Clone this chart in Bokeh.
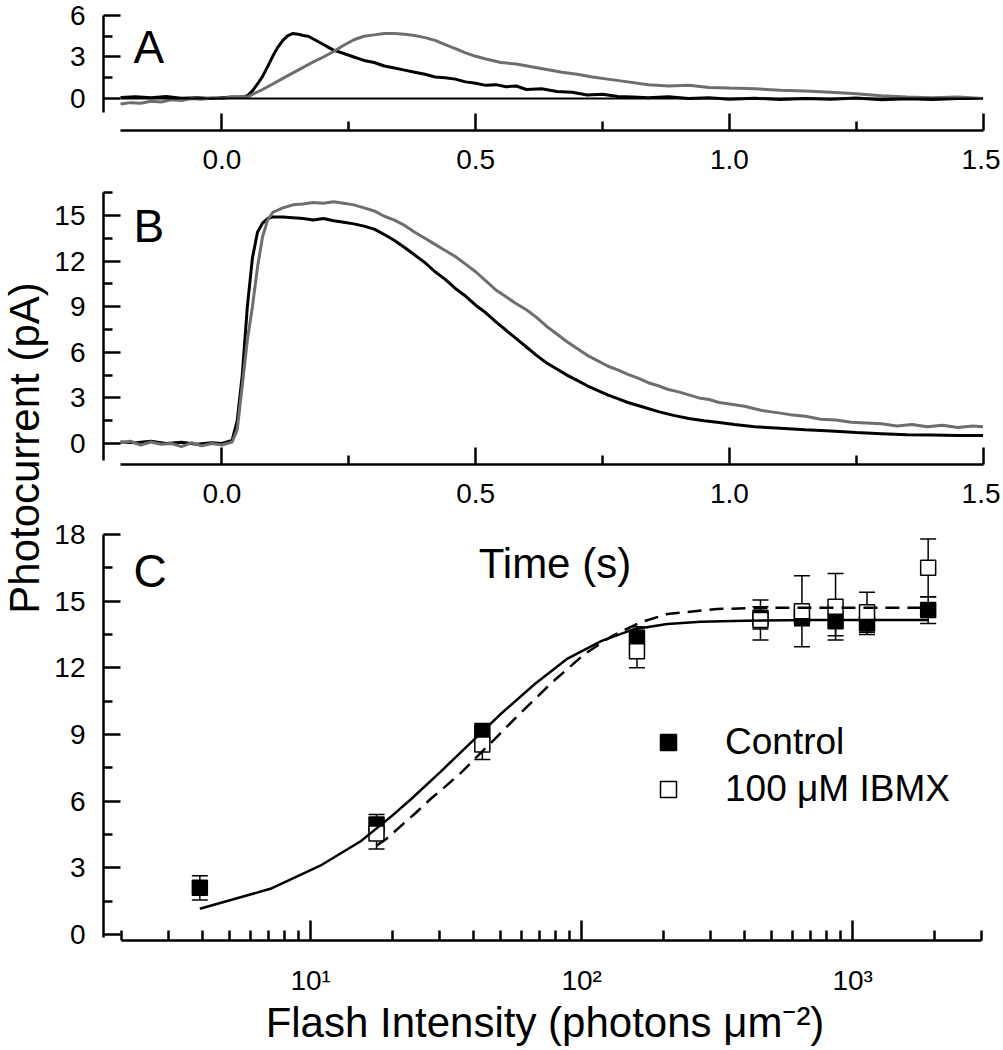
import math
from bokeh.plotting import figure
from bokeh.layouts import row, column
from bokeh.models import (Range1d, FixedTicker, Label, Legend, LegendItem, Whisker,
                          TeeHead, ColumnDataSource, PrintfTickFormatter, CustomJSTickFormatter)
from bokeh.embed import file_html
from bokeh.resources import INLINE

FONT = "Liberation Sans"

# ---------------- Panel A data (time s, current pA) ----------------
a_black_t = [-0.20, -0.17, -0.14, -0.11, -0.08, -0.05, -0.02, 0.00, 0.02, 0.04, 0.05, 0.06, 0.07, 0.08,
             0.09, 0.10, 0.11, 0.12, 0.13, 0.14, 0.15, 0.16, 0.17, 0.18, 0.19, 0.20, 0.21, 0.22, 0.24,
             0.26, 0.28, 0.30, 0.32, 0.34, 0.36, 0.38, 0.40, 0.42, 0.44, 0.46, 0.48, 0.50, 0.52, 0.54,
             0.56, 0.58, 0.60, 0.63, 0.66, 0.69, 0.72, 0.75, 0.78, 0.81, 0.84, 0.88, 0.92, 0.96, 1.00,
             1.05, 1.10, 1.15, 1.20, 1.25, 1.30, 1.35, 1.40, 1.45, 1.50]
a_black_v = [0.08, 0.12, 0.05, 0.15, 0.02, 0.06, 0.00, 0.05, 0.10, 0.08, 0.20, 0.55, 1.05, 1.60,
             2.30, 3.05, 3.70, 4.20, 4.55, 4.70, 4.65, 4.55, 4.50, 4.30, 4.10, 3.90, 3.70, 3.50, 3.25,
             3.00, 2.75, 2.60, 2.35, 2.20, 2.05, 1.90, 1.75, 1.55, 1.50, 1.40, 1.20, 1.10, 0.95, 1.00,
             0.85, 0.90, 0.65, 0.70, 0.50, 0.45, 0.25, 0.30, 0.15, 0.10, 0.05, 0.12, 0.00, 0.05, -0.05,
             0.02, -0.08, 0.00, -0.05, 0.03, -0.10, -0.02, -0.08, 0.00, 0.00]
a_gray_t = [-0.20, -0.18, -0.16, -0.14, -0.12, -0.10, -0.08, -0.06, -0.04, -0.02, 0.00, 0.02, 0.04, 0.05,
            0.06, 0.08, 0.10, 0.12, 0.14, 0.16, 0.18, 0.20, 0.22, 0.24, 0.26, 0.28, 0.30, 0.32, 0.34,
            0.36, 0.38, 0.40, 0.42, 0.44, 0.46, 0.48, 0.50, 0.52, 0.55, 0.58, 0.61, 0.64, 0.67, 0.70,
            0.73, 0.76, 0.80, 0.84, 0.88, 0.92, 0.96, 1.00, 1.05, 1.10, 1.15, 1.20, 1.25, 1.30, 1.35,
            1.40, 1.45, 1.50]
a_gray_v = [-0.40, -0.30, -0.35, -0.20, -0.25, -0.10, -0.15, 0.00, -0.05, 0.05, 0.00, 0.10, 0.15, 0.10,
            0.30, 0.65, 1.05, 1.45, 1.85, 2.25, 2.65, 3.00, 3.40, 3.85, 4.25, 4.50, 4.60, 4.70, 4.70,
            4.65, 4.55, 4.40, 4.20, 3.90, 3.60, 3.30, 3.05, 2.85, 2.60, 2.50, 2.30, 2.10, 1.90, 1.75,
            1.55, 1.40, 1.20, 1.00, 0.90, 0.95, 0.80, 0.75, 0.70, 0.60, 0.55, 0.45, 0.35, 0.20, 0.10,
            0.05, 0.10, 0.00]

# ---------------- Panel B data ----------------
b_black_t = [-0.20, -0.17, -0.14, -0.11, -0.08, -0.05, -0.02, 0.00, 0.02, 0.03, 0.04, 0.05, 0.06, 0.07,
             0.08, 0.09, 0.10, 0.12, 0.14, 0.16, 0.18, 0.20, 0.22, 0.24, 0.26, 0.28, 0.30, 0.32, 0.34,
             0.36, 0.38, 0.40, 0.42, 0.44, 0.46, 0.48, 0.50, 0.52, 0.54, 0.56, 0.58, 0.60, 0.62, 0.64,
             0.66, 0.68, 0.70, 0.72, 0.74, 0.76, 0.78, 0.80, 0.83, 0.86, 0.89, 0.92, 0.95, 0.98, 1.01,
             1.05, 1.10, 1.15, 1.20, 1.25, 1.30, 1.35, 1.40, 1.45, 1.50]
b_black_v = [0.10, 0.05, 0.15, 0.00, 0.08, -0.05, 0.05, 0.00, 0.20, 1.50, 4.50, 9.00, 12.20, 13.90,
             14.50, 14.80, 14.90, 14.90, 14.85, 14.80, 14.70, 14.80, 14.65, 14.55, 14.45, 14.30, 14.10,
             13.75, 13.35, 12.90, 12.40, 11.90, 11.30, 10.80, 10.20, 9.70, 9.10, 8.60, 8.00, 7.45, 6.90,
             6.35, 5.80, 5.30, 4.90, 4.50, 4.15, 3.80, 3.50, 3.20, 2.95, 2.70, 2.40, 2.10, 1.85, 1.65,
             1.50, 1.38, 1.25, 1.10, 1.00, 0.90, 0.82, 0.72, 0.65, 0.58, 0.56, 0.52, 0.53]
b_gray_t = [-0.20, -0.18, -0.16, -0.14, -0.12, -0.10, -0.08, -0.06, -0.04, -0.02, 0.00, 0.02, 0.03, 0.04,
            0.05, 0.06, 0.07, 0.08, 0.09, 0.10, 0.12, 0.14, 0.16, 0.18, 0.20, 0.22, 0.24, 0.26, 0.28,
            0.30, 0.32, 0.34, 0.36, 0.38, 0.40, 0.42, 0.44, 0.46, 0.48, 0.50, 0.52, 0.54, 0.56, 0.58,
            0.60, 0.62, 0.64, 0.66, 0.68, 0.70, 0.72, 0.74, 0.76, 0.78, 0.80, 0.82, 0.84, 0.86, 0.88,
            0.90, 0.92, 0.94, 0.96, 0.98, 1.00, 1.03, 1.06, 1.09, 1.12, 1.15, 1.18, 1.21, 1.24, 1.27,
            1.30, 1.33, 1.36, 1.39, 1.42, 1.45, 1.48, 1.50]
b_gray_v = [0.05, 0.15, -0.10, 0.10, -0.05, 0.00, -0.20, 0.05, -0.15, 0.00, -0.10, 0.10, 0.90, 3.80,
            6.80, 9.00, 11.60, 13.60, 14.70, 15.20, 15.50, 15.70, 15.75, 15.85, 15.80, 15.90, 15.80,
            15.70, 15.50, 15.30, 14.95, 14.70, 14.35, 13.90, 13.50, 13.10, 12.70, 12.30, 11.80, 11.30,
            10.70, 10.10, 9.65, 9.20, 8.80, 8.30, 7.70, 7.20, 6.70, 6.25, 5.80, 5.45, 5.10, 4.85, 4.55,
            4.30, 4.00, 3.80, 3.55, 3.40, 3.20, 3.00, 2.90, 2.70, 2.60, 2.45, 2.20, 2.05, 1.90, 1.80,
            1.60, 1.55, 1.40, 1.35, 1.30, 1.15, 1.25, 1.10, 1.20, 1.05, 1.15, 1.10]

# ---------------- Panel C data ----------------
ctrl_x = [3.9, 17.5, 43, 160, 457, 650, 865, 1130, 1900]
ctrl_y = [2.1, 4.95, 9.1, 13.35, 14.25, 14.3, 14.1, 14.0, 14.6]
ctrl_err = [0.55, 0.45, 0.4, 0.5, 0.5, 0.4, 0.65, 0.5, 0.6]
ibmx_x = [17.5, 43, 160, 457, 650, 865, 1130, 1900]
ibmx_y = [4.55, 8.55, 12.75, 14.15, 14.55, 14.75, 14.5, 16.5]
ibmx_err = [0.7, 0.67, 0.75, 0.9, 1.6, 1.5, 0.9, 1.3]

ctrl_fit_x = [3.9, 5, 7.1, 11, 15.3, 20, 23.5, 30, 38, 50, 67, 88, 118, 156, 207, 275, 400, 700, 1000, 1900]
ctrl_fit_y = [1.16, 1.53, 2.06, 3.14, 4.2, 5.35, 6.1, 7.3, 8.5, 9.9, 11.26, 12.39, 13.2, 13.74, 13.97,
              14.07, 14.12, 14.15, 14.15, 14.15]
ibmx_fit_x = [17.5, 19, 24.4, 27.7, 31, 36, 49, 56, 77, 102, 128, 165, 207, 316, 480, 1000, 1900]
ibmx_fit_y = [4.0, 4.3, 5.47, 6.1, 6.6, 7.3, 8.93, 9.65, 11.3, 12.6, 13.4, 14.05, 14.42, 14.65, 14.7,
              14.7, 14.7]

legend_labels = ["Control", "100 μM IBMX"]

GRAY = "#6e6e6e"
TICK_FS = "28px"


def style_axes(p):
    for ax in [p.xaxis[0], p.yaxis[0]]:
        ax.axis_line_width = 2.5
        ax.major_tick_line_width = 2.5
        ax.minor_tick_line_width = 2.5
        ax.major_tick_in = 17
        ax.major_tick_out = 0
        ax.minor_tick_in = 9
        ax.minor_tick_out = 0
        ax.major_label_text_font = FONT
        ax.major_label_text_font_size = TICK_FS
        ax.major_label_text_color = "black"
        ax.axis_label_text_font = FONT
        ax.axis_label_text_font_style = "normal"
        ax.axis_label_text_color = "black"
    p.yaxis[0].major_label_standoff = 18
    p.xgrid.visible = False
    p.ygrid.visible = False
    p.outline_line_color = None


def letter(x, y, txt, size="46px"):
    return Label(x=x, y=y, text=txt, text_font=FONT, text_font_size=size, text_color="black",
                 text_baseline="alphabetic", text_align="left")


X0, X1 = -0.2335, 1.5068
W_LAB = 50
W_MAIN = 950
BL, BR = 53, 14

# ---------- Panel A ----------
pa = figure(width=W_MAIN, height=182, x_range=Range1d(X0, X1), y_range=Range1d(-2.315, 6.145),
            toolbar_location=None, output_backend="svg",
            min_border_left=BL, min_border_right=BR, min_border_top=13, min_border_bottom=52)
pa.line(a_black_t, a_black_v, line_color="black", line_width=3)
pa.line(a_gray_t, a_gray_v, line_color=GRAY, line_width=3)
pa.line([X0 + 0.034, 1.5], [0, 0], line_color="black", line_width=2)
style_axes(pa)
pa.xaxis.ticker = FixedTicker(ticks=[0, 0.5, 1.0, 1.5], minor_ticks=[0.25, 0.75, 1.25])
pa.xaxis.formatter = PrintfTickFormatter(format="%.1f")
pa.xaxis.bounds = (-0.2, 1.5)
pa.xaxis.major_label_standoff = 19
pa.yaxis.ticker = FixedTicker(ticks=[0, 3, 6], minor_ticks=[1.5, 4.5])
pa.yaxis.bounds = (-1.0, 6)
pa.add_layout(letter(-0.1744, 3.69, "A"))

# ---------- Panel B ----------
pb = figure(width=W_MAIN, height=334, x_range=Range1d(X0, X1), y_range=Range1d(-1.38, 16.645),
            toolbar_location=None, output_backend="svg",
            min_border_left=BL, min_border_right=BR, min_border_top=8, min_border_bottom=52)
pb.line(b_black_t, b_black_v, line_color="black", line_width=3)
pb.line(b_gray_t, b_gray_v, line_color=GRAY, line_width=3)
style_axes(pb)
pb.xaxis.ticker = FixedTicker(ticks=[0, 0.5, 1.0, 1.5], minor_ticks=[0.25, 0.75, 1.25])
pb.xaxis.formatter = PrintfTickFormatter(format="%.1f")
pb.xaxis.bounds = (-0.2, 1.5)
pb.xaxis.major_label_standoff = 19
pb.yaxis.ticker = FixedTicker(ticks=[0, 3, 6, 9, 12, 15], minor_ticks=[1.5, 4.5, 7.5, 10.5, 13.5, 16.5])
pb.yaxis.bounds = (-1.1, 16.5)
pb.add_layout(letter(-0.1744, 14.34, "B"))

# ---------- Panel C ----------
pc = figure(width=W_MAIN, height=532, x_axis_type="log", x_range=Range1d(1.72, 3119),
            y_range=Range1d(-0.268, 18.541),
            toolbar_location=None, output_backend="svg",
            min_border_left=BL, min_border_right=BR, min_border_top=6, min_border_bottom=100)

ctrl_src = ColumnDataSource(dict(x=ctrl_x, y=ctrl_y,
                                 upper=[v + e for v, e in zip(ctrl_y, ctrl_err)],
                                 lower=[v - e for v, e in zip(ctrl_y, ctrl_err)]))
ibmx_src = ColumnDataSource(dict(x=ibmx_x, y=ibmx_y,
                                 upper=[v + e for v, e in zip(ibmx_y, ibmx_err)],
                                 lower=[v - e for v, e in zip(ibmx_y, ibmx_err)]))
for src in (ctrl_src, ibmx_src):
    pc.add_layout(Whisker(source=src, base="x", upper="upper", lower="lower", dimension="height",
                          line_width=1.5, line_color="black",
                          upper_head=TeeHead(size=16, line_width=1.5, line_color="black"),
                          lower_head=TeeHead(size=16, line_width=1.5, line_color="black")))
r_ctrl = pc.scatter("x", "y", source=ctrl_src, marker="square", size=15,
                    fill_color="black", line_color="black", line_width=1.5)
r_ibmx = pc.scatter("x", "y", source=ibmx_src, marker="square", size=15,
                    fill_color="white", line_color="black", line_width=1.5)
pc.line(ctrl_fit_x, ctrl_fit_y, line_color="black", line_width=2.5)
pc.line(ibmx_fit_x, ibmx_fit_y, line_color="black", line_width=2.5, line_dash="14 8")
style_axes(pc)
pc.xaxis.ticker = FixedTicker(ticks=[10, 100, 1000],
                              minor_ticks=[2, 3, 4, 5, 6, 7, 8, 9, 20, 30, 40, 50, 60, 70, 80, 90,
                                           200, 300, 400, 500, 600, 700, 800, 900, 2000, 3000])
pc.xaxis.formatter = CustomJSTickFormatter(code="""
const e = Math.round(Math.log10(tick));
const sup = {1: '\u00b9', 2: '\u00b2', 3: '\u00b3'};
return '10' + (sup[e] || '');
""")
pc.xaxis.bounds = (2, 3000)
pc.xaxis.major_tick_in = 20
pc.xaxis.minor_tick_in = 10
pc.xaxis.major_label_standoff = 24
pc.xaxis.axis_label = "Flash Intensity (photons μm⁻²)"
pc.xaxis.axis_label_text_font_size = "42px"
pc.xaxis.axis_label_standoff = 0
pc.yaxis.ticker = FixedTicker(ticks=[0, 3, 6, 9, 12, 15, 18],
                              minor_ticks=[1.5, 4.5, 7.5, 10.5, 13.5, 16.5])
pc.yaxis.bounds = (-0.15, 18)
pc.add_layout(letter(2.22, 16.36, "C"))
pc.add_layout(letter(41.7, 16.68, "Time (s)", size="42px"))

legend = Legend(items=[LegendItem(label=legend_labels[0], renderers=[r_ctrl]),
                       LegendItem(label=legend_labels[1], renderers=[r_ibmx])],
                location=(545, 130), padding=0, spacing=5, glyph_width=40, glyph_height=40,
                label_height=40, label_standoff=37, label_text_font=FONT, label_text_color="black",
                label_text_font_size="37px", border_line_color=None, background_fill_alpha=0)
pc.add_layout(legend)

# ---------- shared y label ----------
pl = figure(width=W_LAB, height=1048, x_range=Range1d(0, W_LAB), y_range=Range1d(0, 1048),
            toolbar_location=None, output_backend="svg", x_axis_location=None, y_axis_location=None,
            min_border=0)
pl.outline_line_color = None
pl.xgrid.visible = False
pl.ygrid.visible = False
pl.add_layout(Label(x=24, y=600.5, text="Photocurrent (pA)", angle=math.pi / 2, text_font=FONT,
                    text_font_size="42px", text_color="black", text_align="center",
                    text_baseline="alphabetic"))

layout = row(pl, column(pa, pb, pc))
open("out.html", "w").write(file_html(layout, INLINE))
